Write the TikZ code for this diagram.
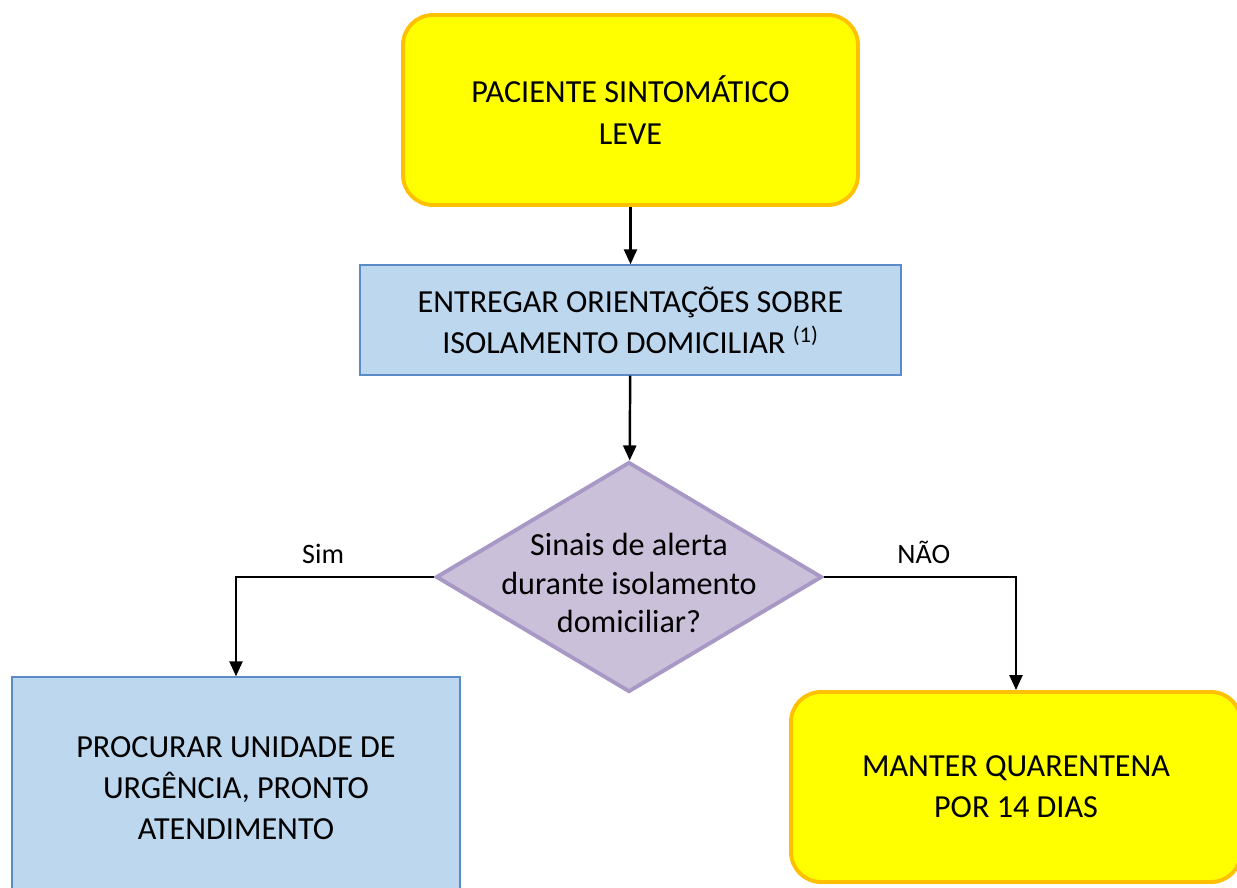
\documentclass[tikz,border=0pt]{standalone}
\usepackage{fontspec}
\setmainfont{Carlito}
\usepackage{tikz}
\usetikzlibrary{arrows.meta, positioning, shapes.geometric}

\definecolor{amarelo}{HTML}{FFFF00}
\definecolor{laranja}{HTML}{FFC000}
\definecolor{azulfundo}{HTML}{BDD7EE}
\definecolor{azulborda}{HTML}{5B8BC6}
\definecolor{lilas}{HTML}{CBC0DA}
\definecolor{lilasborda}{HTML}{A898C6}

\tikzset{
    texto/.style={align=center, font=\fontsize{18.3}{23.5}\selectfont},
    caixaamarela/.style={texto, draw=laranja, line width=2.2pt, fill=amarelo, rounded corners=0.6cm},
    caixaazul/.style={texto, draw=azulborda, line width=0.8pt, fill=azulfundo},
    decisao/.style={diamond, draw=lilasborda, line width=2.2pt, fill=lilas, inner sep=0pt},
    seta/.style={line width=1.4pt, -{Triangle[length=0.3cm,width=0.26cm]}},
    rotulo/.style={font=\fontsize{16}{19}\selectfont}
}

\begin{document}
\begin{tikzpicture}
    \useasboundingbox (0,0) rectangle (24.74,-17.76);
    \fill[white] (0,0) rectangle (24.74,-17.76);

    \node[caixaamarela, minimum width=9.1cm, minimum height=3.8cm] (paciente) at (12.61,-2.2)
        {PACIENTE SINTOMÁTICO\\LEVE};
    \node[caixaazul, minimum width=10.82cm, minimum height=2.2cm] (orientacoes) at (12.61,-6.4)
        {ENTREGAR ORIENTAÇÕES SOBRE\\ISOLAMENTO DOMICILIAR \textsuperscript{(1)}};
    \node[decisao, minimum width=7.72cm, minimum height=4.6cm] (sinais) at (12.58,-11.54) {};
    \node[texto, font=\fontsize{18.3}{22}\selectfont, yshift=-0.12cm] (pergunta) at (sinais)
        {Sinais de alerta\\durante isolamento\\domiciliar?};
    \node[caixaazul, minimum width=8.96cm, minimum height=4.44cm] (procurar) at (4.72,-15.76)
        {PROCURAR UNIDADE DE\\URGÊNCIA, PRONTO\\ATENDIMENTO};
    \node[caixaamarela, minimum width=9.0cm, minimum height=3.8cm] (quarentena) at (20.32,-15.74)
        {MANTER QUARENTENA\\POR 14 DIAS};

    \draw[seta] (paciente) -- (orientacoes);
    \draw[seta] (orientacoes) -- (sinais);
    \draw[seta] (sinais.west) -| node[rotulo, pos=0.28, above=0.12cm] (sim) {Sim} (procurar.north);
    \draw[seta] (sinais.east) -| node[rotulo, pos=0.26, above=0.12cm] (nao) {NÃO} (quarentena.north);
\end{tikzpicture}
\end{document}
